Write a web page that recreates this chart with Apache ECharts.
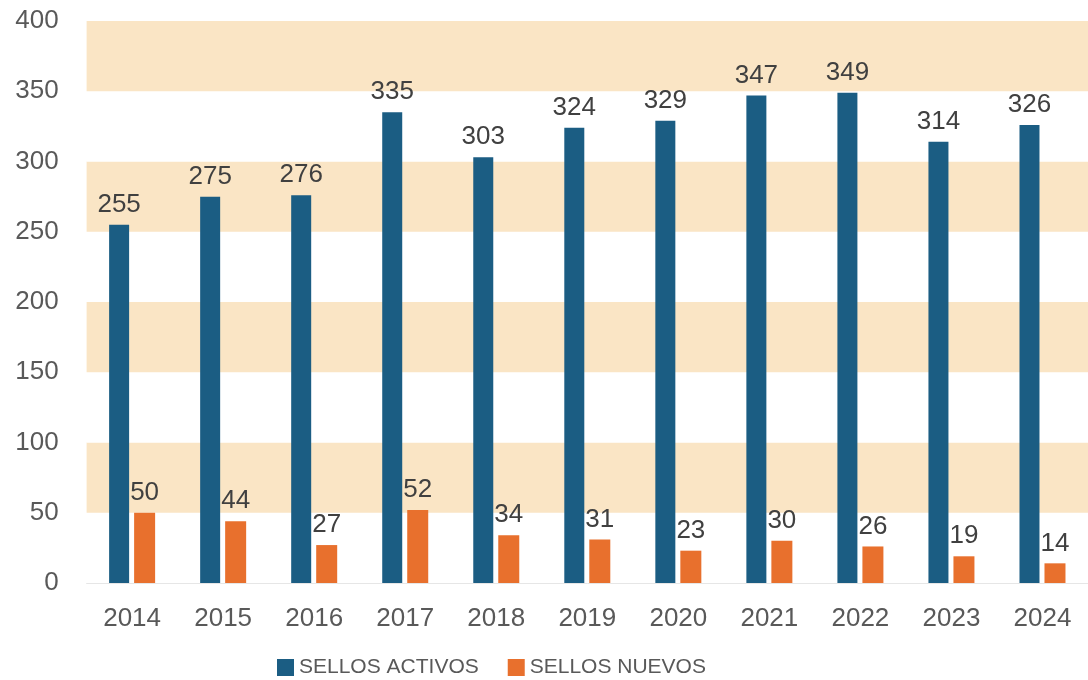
<!DOCTYPE html>
<html>
<head>
<meta charset="utf-8">
<script src="https://cdn.jsdelivr.net/npm/echarts@6/dist/echarts.min.js"></script>
<style>html,body{margin:0;padding:0;background:#fff}#c{width:1088px;height:680px}</style>
</head>
<body>
<div id="c"></div>
<script>
const categories = ['2014','2015','2016','2017','2018','2019','2020','2021','2022','2023','2024'];
const sellosActivos = [255,275,276,335,303,324,329,347,349,314,326];
const sellosNuevos = [50,44,27,52,34,31,23,30,26,19,14];
const yTicks = { min: 0, max: 400, interval: 50 };

const chart = echarts.init(document.getElementById('c'), null, { renderer: 'canvas' });
const labelStyle = { show: true, position: 'top', distance: 7, color: '#404040', fontSize: 26, fontFamily: 'Liberation Sans, Arial, sans-serif' };
chart.setOption({
  animation: false,
  backgroundColor: '#ffffff',
  grid: { left: 86.6, right: -19.4, top: 21, bottom: 97, containLabel: false },
  legend: {
    left: 272, top: 652,
    itemWidth: 17, itemHeight: 17, itemGap: 29,
    icon: 'rect',
    textStyle: { color: '#595959', fontSize: 21, fontFamily: 'Liberation Sans Narrow, Arial Narrow, Liberation Sans, sans-serif' },
    data: ['SELLOS ACTIVOS', 'SELLOS NUEVOS']
  },
  xAxis: {
    type: 'category', data: categories,
    axisLine: { show: true, lineStyle: { color: '#e6e6e6', width: 1 } },
    axisTick: { show: false },
    axisLabel: { color: '#595959', fontSize: 26, margin: 23, fontFamily: 'Liberation Sans, Arial, sans-serif' }
  },
  yAxis: {
    type: 'value', min: yTicks.min, max: yTicks.max, interval: yTicks.interval,
    axisLine: { show: false }, axisTick: { show: false },
    splitLine: { show: false },
    splitArea: { show: true, areaStyle: { color: ['#ffffff', '#fae5c5'] } },
    axisLabel: { color: '#595959', fontSize: 26, margin: 28, fontFamily: 'Liberation Sans, Arial, sans-serif' }
  },
  series: [
    { name: 'SELLOS ACTIVOS', type: 'bar', data: sellosActivos, barWidth: 20, barGap: '25%',
      itemStyle: { color: '#1b5d83' }, label: labelStyle },
    { name: 'SELLOS NUEVOS', type: 'bar', data: sellosNuevos, barWidth: 21,
      itemStyle: { color: '#e8702d' }, label: labelStyle }
  ]
});
</script>
</body>
</html>
